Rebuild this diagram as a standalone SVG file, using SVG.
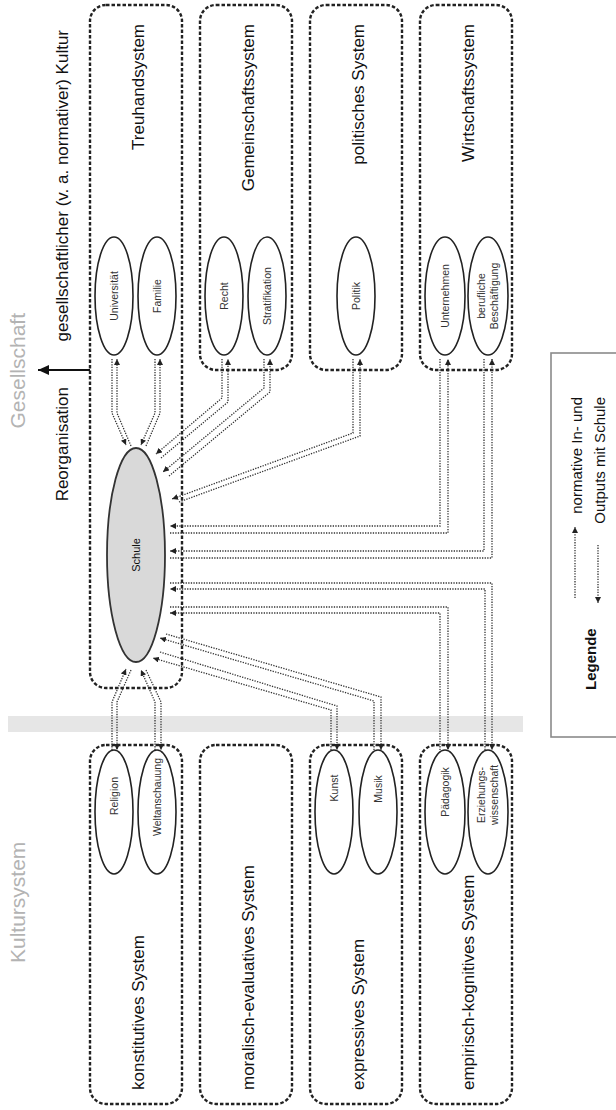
<svg xmlns="http://www.w3.org/2000/svg" width="616" height="1110" viewBox="0 0 616 1110">
<style>
.box{fill:none;stroke:#222;stroke-width:2.4;stroke-dasharray:3.5 2}
.el{fill:#fff;stroke:#222;stroke-width:1.6}
.c{fill:none;stroke:#333;stroke-width:1.3;stroke-dasharray:1.3 1.3;marker-end:url(#ah)}
.lbl{font-family:"Liberation Sans",Arial,sans-serif;font-size:17px;fill:#111}
.sm{font-family:"Liberation Sans",Arial,sans-serif;font-size:10.5px;fill:#333}
.big{font-family:"Liberation Sans",Arial,sans-serif;font-size:21px;fill:#b3b3b3}
</style>
<defs>
<marker id="ah" markerUnits="userSpaceOnUse" markerWidth="7" markerHeight="6" refX="6" refY="3" orient="auto">
<path d="M0,0 L6,3 L0,6 z" fill="#222"/>
</marker>
<marker id="bh" markerUnits="userSpaceOnUse" markerWidth="12" markerHeight="10" refX="11" refY="5" orient="auto">
<path d="M0,0 L11,5 L0,10 z" fill="#111"/>
</marker>
</defs>
<rect x="0" y="0" width="616" height="1110" fill="#fff"/>
<rect x="8" y="716" width="515" height="16" fill="#e6e6e6"/>

<g id="titles">
<text class="big" transform="translate(17,313) rotate(-90)" text-anchor="end" dominant-baseline="central">Gesellschaft</text>
<text class="big" transform="translate(17,963) rotate(-90)" text-anchor="start" dominant-baseline="central">Kultursystem</text>
<text class="lbl" transform="translate(62,30) rotate(-90)" text-anchor="end" dominant-baseline="central">gesellschaftlicher (v. a. normativer) Kultur</text>
<text class="lbl" transform="translate(62,387) rotate(-90)" text-anchor="end" dominant-baseline="central">Reorganisation</text>
<line x1="90" y1="370" x2="38" y2="370" stroke="#111" stroke-width="2" marker-end="url(#bh)"/>
</g>

<g id="treuhandsystem">
<rect class="box" x="90" y="5" width="92" height="683" rx="16"/>
<text class="lbl" transform="translate(138,24) rotate(-90)" text-anchor="end" dominant-baseline="central">Treuhandsystem</text>
</g>
<g id="gemeinschaftssystem">
<rect class="box" x="200" y="5" width="92" height="365" rx="16"/>
<text class="lbl" transform="translate(248,24) rotate(-90)" text-anchor="end" dominant-baseline="central">Gemeinschaftssystem</text>
</g>
<g id="politisches-system">
<rect class="box" x="310" y="5" width="92" height="365" rx="16"/>
<text class="lbl" transform="translate(358,24) rotate(-90)" text-anchor="end" dominant-baseline="central">politisches System</text>
</g>
<g id="wirtschaftssystem">
<rect class="box" x="420" y="5" width="92" height="365" rx="16"/>
<text class="lbl" transform="translate(468,24) rotate(-90)" text-anchor="end" dominant-baseline="central">Wirtschaftssystem</text>
</g>

<g id="konstitutives-system">
<rect class="box" x="90" y="745" width="92" height="359" rx="16"/>
<text class="lbl" transform="translate(138,1090) rotate(-90)" text-anchor="start" dominant-baseline="central">konstitutives System</text>
</g>
<g id="moralisch-evaluatives-system">
<rect class="box" x="200" y="745" width="92" height="359" rx="16"/>
<text class="lbl" transform="translate(248,1090) rotate(-90)" text-anchor="start" dominant-baseline="central">moralisch-evaluatives System</text>
</g>
<g id="expressives-system">
<rect class="box" x="310" y="745" width="92" height="359" rx="16"/>
<text class="lbl" transform="translate(358,1090) rotate(-90)" text-anchor="start" dominant-baseline="central">expressives System</text>
</g>
<g id="empirisch-kognitives-system">
<rect class="box" x="420" y="745" width="92" height="359" rx="16"/>
<text class="lbl" transform="translate(468,1090) rotate(-90)" text-anchor="start" dominant-baseline="central">empirisch-kognitives System</text>
</g>

<g id="schule">
<ellipse cx="136" cy="555" rx="29" ry="107" fill="#d9d9d9" stroke="#333" stroke-width="1.8"/>
<text class="sm" transform="translate(136,555) rotate(-90)" text-anchor="middle" dominant-baseline="central" style="font-size:11px;fill:#111">Schule</text>
</g>

<g id="universitaet"><ellipse class="el" cx="114" cy="296" rx="19" ry="59"/><text class="sm" transform="translate(114,296) rotate(-90)" text-anchor="middle" dominant-baseline="central">Universität</text></g>
<g id="familie"><ellipse class="el" cx="157" cy="296" rx="19" ry="59"/><text class="sm" transform="translate(157,296) rotate(-90)" text-anchor="middle" dominant-baseline="central">Familie</text></g>
<g id="recht"><ellipse class="el" cx="224" cy="296" rx="19" ry="59"/><text class="sm" transform="translate(224,296) rotate(-90)" text-anchor="middle" dominant-baseline="central">Recht</text></g>
<g id="stratifikation"><ellipse class="el" cx="267" cy="296" rx="19" ry="59"/><text class="sm" transform="translate(267,296) rotate(-90)" text-anchor="middle" dominant-baseline="central">Stratifikation</text></g>
<g id="politik"><ellipse class="el" cx="356" cy="296" rx="19" ry="59"/><text class="sm" transform="translate(356,296) rotate(-90)" text-anchor="middle" dominant-baseline="central">Politik</text></g>
<g id="unternehmen"><ellipse class="el" cx="445" cy="296" rx="20" ry="59"/><text class="sm" transform="translate(445,296) rotate(-90)" text-anchor="middle" dominant-baseline="central">Unternehmen</text></g>
<g id="berufliche-beschaeftigung"><ellipse class="el" cx="488" cy="296" rx="20" ry="59"/><text class="sm" transform="translate(488,296) rotate(-90)" text-anchor="middle"><tspan x="0" y="-3">berufliche</tspan><tspan x="0" y="10">Beschäftigung</tspan></text></g>

<g id="religion"><ellipse class="el" cx="114" cy="812" rx="19" ry="62"/><text class="sm" transform="translate(114,796) rotate(-90)" text-anchor="middle" dominant-baseline="central">Religion</text></g>
<g id="weltanschauung"><ellipse class="el" cx="157" cy="812" rx="19" ry="62"/><text class="sm" transform="translate(157,797) rotate(-90)" text-anchor="middle" dominant-baseline="central">Weltanschauung</text></g>
<g id="kunst"><ellipse class="el" cx="334" cy="812" rx="19" ry="62"/><text class="sm" transform="translate(334,788) rotate(-90)" text-anchor="middle" dominant-baseline="central">Kunst</text></g>
<g id="musik"><ellipse class="el" cx="378" cy="812" rx="19" ry="62"/><text class="sm" transform="translate(378,789) rotate(-90)" text-anchor="middle" dominant-baseline="central">Musik</text></g>
<g id="paedagogik"><ellipse class="el" cx="445" cy="812" rx="20" ry="62"/><text class="sm" transform="translate(445,792) rotate(-90)" text-anchor="middle" dominant-baseline="central">Pädagogik</text></g>
<g id="erziehungswissenschaft"><ellipse class="el" cx="488" cy="812" rx="20" ry="62"/><text class="sm" transform="translate(488,795) rotate(-90)" text-anchor="middle"><tspan x="0" y="-3">Erziehungs-</tspan><tspan x="0" y="10">wissenschaft</tspan></text></g>

<g id="connectors">
<polyline class="c" points="112,359 112,413 126,445"/>
<polyline class="c" points="131,446 117,413 117,359"/>
<polyline class="c" points="155,359 155,413 141,445"/>
<polyline class="c" points="146,446 160,413 160,359"/>
<polyline class="c" points="222,359 222,398 156,454"/>
<polyline class="c" points="161,458 228,402 228,359"/>
<polyline class="c" points="264,359 264,388 163,472"/>
<polyline class="c" points="169,476 270,392 270,359"/>
<polyline class="c" points="353,359 353,433 172,499"/>
<polyline class="c" points="179,502 360,436 360,359"/>
<polyline class="c" points="440,359 440,526 170,526"/>
<polyline class="c" points="170,533 448,533 448,359"/>
<polyline class="c" points="484,359 484,551 170,551"/>
<polyline class="c" points="170,558 492,558 492,359"/>
<polyline class="c" points="170,583 492,583 492,750"/>
<polyline class="c" points="485,750 485,589 170,589"/>
<polyline class="c" points="170,607 448,607 448,750"/>
<polyline class="c" points="440,750 440,613 170,613"/>
<polyline class="c" points="166,634 381,697 381,750"/>
<polyline class="c" points="374,750 374,701 160,638"/>
<polyline class="c" points="160,652 337,706 337,750"/>
<polyline class="c" points="331,750 331,710 153,658"/>
<polyline class="c" points="131,670 117,702 117,750"/>
<polyline class="c" points="112,750 112,702 126,669"/>
<polyline class="c" points="146,670 161,702 161,750"/>
<polyline class="c" points="155,750 155,702 141,670"/>
</g>

<g id="legende">
<rect x="551" y="353" width="90" height="384" fill="#fff" stroke="#8a8a8a" stroke-width="1.6"/>
<text transform="translate(590,690) rotate(-90)" text-anchor="start" dominant-baseline="central" style="font-family:'Liberation Sans',Arial,sans-serif;font-size:15px;font-weight:bold;fill:#111">Legende</text>
<polyline class="c" points="575,598 575,527"/>
<polyline class="c" points="598,545 598,603"/>
<text transform="translate(576,397) rotate(-90)" text-anchor="end" dominant-baseline="central" style="font-family:'Liberation Sans',Arial,sans-serif;font-size:15px;fill:#111">normative In- und</text>
<text transform="translate(599,397) rotate(-90)" text-anchor="end" dominant-baseline="central" style="font-family:'Liberation Sans',Arial,sans-serif;font-size:15px;fill:#111">Outputs mit Schule</text>
</g>
</svg>
